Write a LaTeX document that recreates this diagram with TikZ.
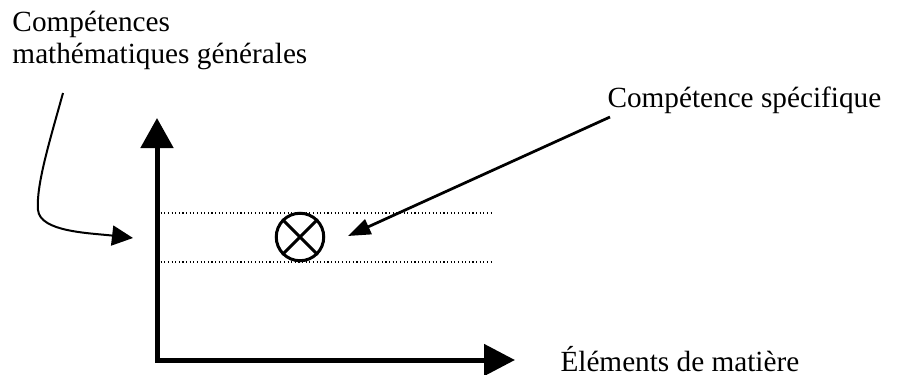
\documentclass[tikz,border=0pt]{standalone}
\usepackage{fontspec}
\setmainfont{Liberation Serif}
\usetikzlibrary{arrows.meta, positioning}

\begin{document}
\begin{tikzpicture}[
  x=0.4pt, y=-0.4pt,
  every node/.style={font=\fontsize{11.7}{12.6}\selectfont, inner sep=0pt},
  lbl/.style={anchor=base west, align=left},
  axis/.style={line width=2pt, {Triangle[length=12pt, width=12.8pt]}-{Triangle[length=12.4pt, width=12.4pt]}},
  band/.style={line width=0.45pt, densely dotted},
  pointer/.style={line width=1.1pt, -{Triangle[length=9pt, width=6.4pt]}},
  curvearrow/.style={line width=0.8pt, -{Triangle[length=8.4pt, width=8pt]}},
  target/.style={circle, draw, line width=1.2pt, minimum size=19pt}
]
  \useasboundingbox (0,0) rectangle (908,374);

  % Axes
  \coordinate (ytip) at (157,118);
  \coordinate (origin) at (157,360);
  \coordinate (xtip) at (515,360);
  \draw[axis] (ytip) -- (origin) -- (xtip);

  % Bande des competences generales
  \coordinate (bandtopl) at (157,213);
  \coordinate (bandtopr) at (491,213);
  \coordinate (bandbotl) at (157,262);
  \coordinate (bandbotr) at (491,262);
  \draw[band] (bandtopl) -- (bandtopr);
  \draw[band] (bandbotl) -- (bandbotr);

  % Competence specifique
  \node[target] (spot) at (300,237) {};
  \draw[line width=1.2pt] (spot.45) -- (spot.225) (spot.135) -- (spot.315);

  % Etiquettes
  \node[lbl] (gen) at (12,63) {Compétences\\mathématiques générales};
  \node[lbl] (spec) at (607,107) {Compétence spécifique};
  \node[lbl] (elem) at (560,371) {Éléments de matière};

  % Fleches
  \coordinate (genstart) at (63,93);
  \coordinate (genend) at (133,238);
  \draw[curvearrow] (genstart) .. controls (50,140) and (36,185) .. (38,210)
    .. controls (40,232) and (90,233) .. (genend);
  \coordinate (specstart) at (610,117);
  \coordinate (specend) at (348,236);
  \draw[pointer] (specstart) -- (specend);

\end{tikzpicture}
\end{document}
